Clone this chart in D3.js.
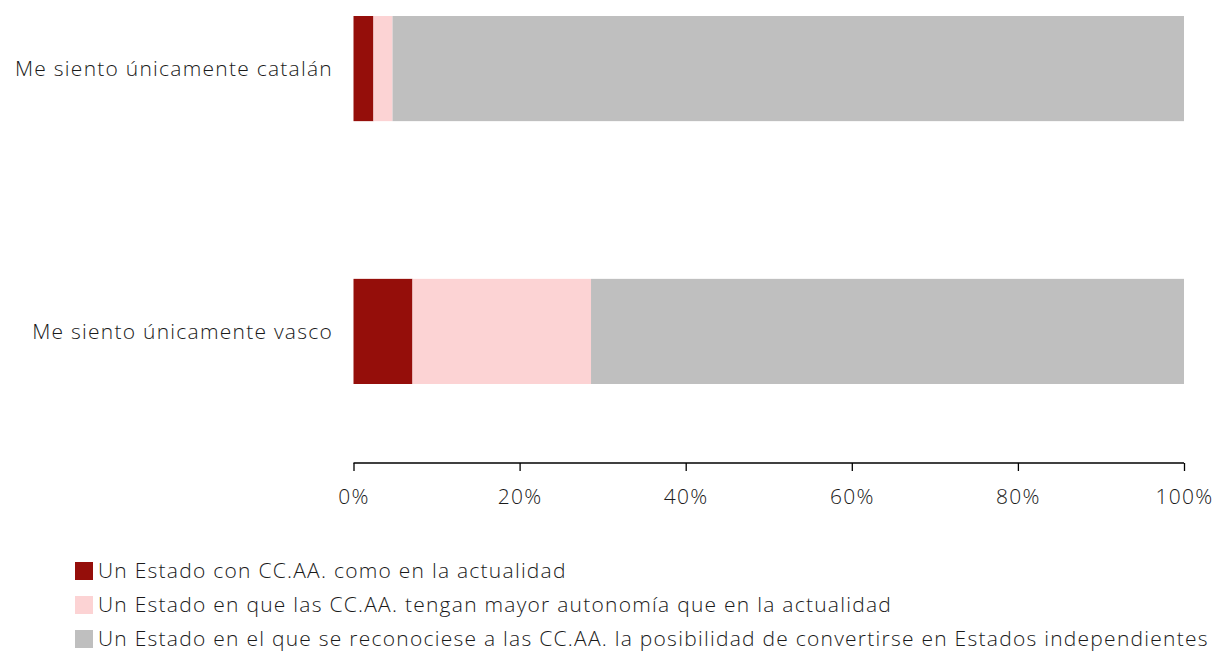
<!DOCTYPE html>
<html><head><meta charset="utf-8">
<script src="https://cdn.jsdelivr.net/npm/d3@7"></script>
<style>body{margin:0;background:#fff}svg{display:block}text{font-family:"Open Sans",sans-serif;font-weight:300;fill:#1a1a1a;letter-spacing:1.25px}</style>
</head><body><svg id="c" width="1217" height="652"></svg>
<script>
const categories = ["Me siento únicamente catalán", "Me siento únicamente vasco"];
const seriesNames = [
  "Un Estado con CC.AA. como en la actualidad",
  "Un Estado en que las CC.AA. tengan mayor autonomía que en la actualidad",
  "Un Estado en el que se reconociese a las CC.AA. la posibilidad de convertirse en Estados independientes"
];
const actual = [2.4, 7.1];
const mayorAutonomia = [2.3, 21.5];
const independientes = [95.3, 71.4];
const tickValues = [0, 20, 40, 60, 80, 100];
const colors = ["#950e0a", "#fcd3d4", "#bfbfbf"];

const svg = d3.select("#c");
const x = d3.scaleLinear().domain([0, 100]).range([353.5, 1184]);
const y = d3.scaleBand().domain(categories).range([16, 384]).paddingInner(0.6).paddingOuter(0);
const series = [actual, mayorAutonomia, independientes];
const stacked = d3.stack().keys([0,1,2]).value((d,k)=>series[k][d])(categories.map((c,i)=>i));

const g = svg.append("g");
stacked.forEach((s,k)=>{
  g.selectAll(null).data(s).enter().append("rect")
    .attr("x", d=>x(d[0])).attr("width", d=>x(d[1])-x(d[0]))
    .attr("y", (d,i)=>y(categories[i])).attr("height", y.bandwidth())
    .attr("fill", colors[k]);
});

svg.selectAll(null).data(categories).enter().append("text")
  .attr("x", 333).attr("y", d=>y(d)+y.bandwidth()/2).attr("dy","0.35em")
  .attr("text-anchor","end").style("font-size","21px").text(d=>d);

const ax = svg.append("g").attr("transform","translate(0,463)")
  .call(d3.axisBottom(x).tickValues(tickValues).tickFormat(d=>d+"%").tickSize(8).tickSizeOuter(0));
ax.select(".domain").attr("stroke","#000").attr("stroke-width",1.5).attr("d", `M${x(0)},0H${x(100)}`);
ax.selectAll(".tick line").attr("stroke","#000").attr("stroke-width",1.3).attr("y1",0).attr("y2",8);
ax.selectAll(".tick text").attr("y",34).attr("dy","0.35em").style("font-size","21px").style("font-family","'Open Sans',sans-serif").style("font-weight","300").attr("fill","#1a1a1a");

const leg = svg.append("g");
seriesNames.forEach((n,k)=>{
  const yy = 571 + k*34;
  leg.append("rect").attr("x",75).attr("y",yy-9).attr("width",18).attr("height",18).attr("fill",colors[k]);
  leg.append("text").attr("x",98).attr("y",yy).attr("dy","0.35em").style("font-size","21px").text(n);
});
</script></body></html>
